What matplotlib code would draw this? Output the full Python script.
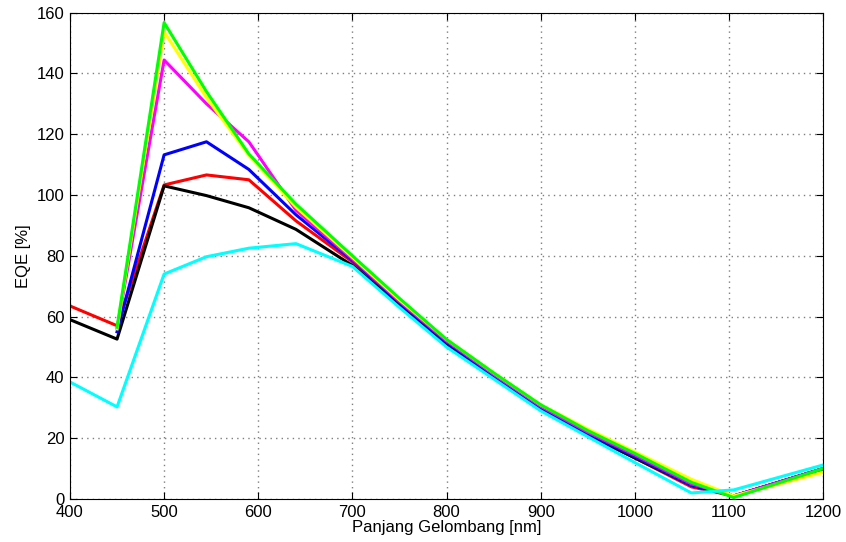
import numpy as np
import matplotlib
matplotlib.use("Agg")
import matplotlib.pyplot as plt

plt.rcParams['font.family'] = ['Liberation Sans', 'DejaVu Sans']

# panjang gelombang (nm)
wavelength = [400, 450, 500, 545, 590, 640, 700, 750, 800, 850, 900, 950, 1000, 1060, 1105, 1200]

nan = np.nan
eqe_red     = [63.5, 57.0, 103.3, 106.6, 105.0, 91.5, 78.0, 64.0, 51.5, 40.5, 30.0, 21.5, 13.5, 4.0, 1.0, 10.0]
eqe_black   = [59.0, 52.6, 103.0,  99.8,  95.8, 88.7, 76.8, 63.5, 51.0, 40.0, 29.5, 21.0, 13.5, 4.5, 1.0, 10.0]
eqe_blue    = [nan, 55.0, 113.2, 117.5, 108.4, 93.5, 78.5, 64.5, 51.5, 40.5, 30.0, 21.5, 14.0, 4.5, 1.0, 10.0]
eqe_magenta = [nan, 56.0, 144.4, 130.0, 117.5, 95.0, 79.0, 65.0, 52.0, 41.0, 30.5, 22.0, 14.5, 5.0, 1.0, 10.0]
eqe_yellow  = [nan, 56.0, 153.7, 132.0, 113.0, 96.0, 79.5, 65.5, 52.5, 41.5, 31.0, 23.0, 15.5, 6.5, 1.0, 8.8]
eqe_green   = [nan, 56.5, 156.7, 134.0, 113.5, 97.0, 80.0, 66.0, 52.5, 41.5, 31.0, 22.5, 15.0, 5.5, 0.5, 10.0]
eqe_cyan    = [38.5, 30.3, 74.0,  79.7,  82.5, 84.0, 76.5, 63.0, 50.0, 39.5, 29.0, 20.5, 12.0, 2.0, 3.0, 11.2]

series = [
    (eqe_red, '#ff0000'),
    (eqe_black, '#000000'),
    (eqe_blue, '#0000ff'),
    (eqe_magenta, '#ff00ff'),
    (eqe_yellow, '#ffff00'),
    (eqe_green, '#00ff00'),
    (eqe_cyan, '#00ffff'),
]

fig = plt.figure(figsize=(8.46, 5.42), dpi=100)
ax = fig.add_axes([0.0827, 0.0793, 0.8903, 0.8975])

for vals, col in series:
    ax.plot(wavelength, vals, color=col, linewidth=2.2)

ax.set_xlim(400, 1200)
ax.set_ylim(0, 160)
ax.set_xticks(range(400, 1201, 100))
ax.set_yticks(range(0, 161, 20))
ax.grid(True, linestyle=(0, (1, 3)), color='#7f7f7f', linewidth=1.0)
ax.tick_params(direction='in', top=True, right=True, labelsize=12, length=5, pad=4)
for s in ax.spines.values():
    s.set_linewidth(0.8)
ax.set_xlabel('Panjang Gelombang [nm]', fontsize=12, labelpad=0)
ax.set_ylabel('EQE [%]', fontsize=12, labelpad=4)

fig.savefig('out.png', dpi=100)
